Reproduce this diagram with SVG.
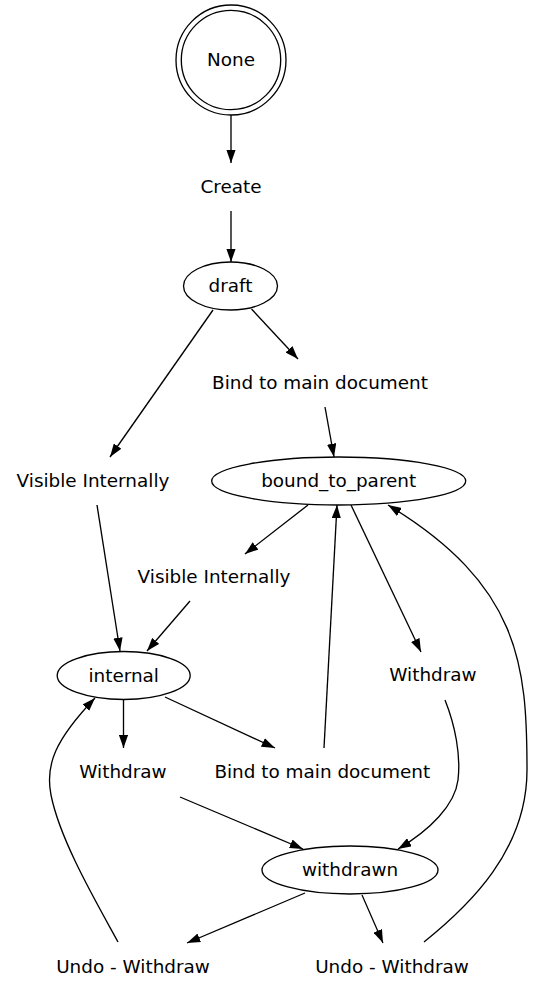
<svg xmlns="http://www.w3.org/2000/svg" width="533" height="997" viewBox="0 0 533 997">
<style>
.n{fill:#fff;stroke:#000;stroke-width:1.33}
.t{font-family:"DejaVu Sans","Liberation Sans",sans-serif;font-size:18.4px;text-anchor:middle;fill:#000}
.e{fill:none;stroke:#000;stroke-width:1.33;marker-end:url(#arr)}
</style>
<defs>
<marker id="arr" markerUnits="userSpaceOnUse" viewBox="0 0 13.3 9.33" markerWidth="13.3" markerHeight="9.33" refX="13.3" refY="4.67" orient="auto">
<path d="M0,0 L13.3,4.67 L0,9.33 z" fill="#000"/>
</marker>
</defs>
<rect width="533" height="997" fill="#fff"/>
<g id="edges">
<path class="e" d="M231,115 L231,163"/>
<path class="e" d="M231,211 L231,262"/>
<path class="e" d="M251.5,309 L298,359"/>
<path class="e" d="M213,310 L110,457"/>
<path class="e" d="M325,407 L334,457"/>
<path class="e" d="M97,505 L120,651"/>
<path class="e" d="M308,505 L245,554"/>
<path class="e" d="M190,601 L147,651"/>
<path class="e" d="M351,505 L421,652"/>
<path class="e" d="M123.5,700 L123.5,748"/>
<path class="e" d="M165,697 L275,748"/>
<path class="e" d="M324,748 L337,505"/>
<path class="e" d="M445,700 C455,725 461,755 458,780 C455,805 430,830 398,849"/>
<path class="e" d="M180,797 L303,849"/>
<path class="e" d="M305,893 L187,943"/>
<path class="e" d="M362,895 L383,943"/>
<path class="e" d="M118,942 C95,900 60,840 51,795 C45,765 55,740 95,698"/>
<path class="e" d="M424,942 C470,905 527,850 527,770 C527,665 520,585 388,505"/>
</g>
<g id="None">
<circle class="n" cx="231" cy="60" r="55"/>
<circle class="n" cx="231" cy="60" r="49.7"/>
<text class="t" x="231" y="66">None</text>
</g>
<g id="Create"><text class="t" x="231" y="193">Create</text></g>
<g id="draft">
<ellipse class="n" cx="230.5" cy="286" rx="47" ry="24"/>
<text class="t" x="230.5" y="292">draft</text>
</g>
<g id="bind1"><text class="t" x="320" y="389">Bind to main document</text></g>
<g id="visible1"><text class="t" x="93" y="487">Visible Internally</text></g>
<g id="bound_to_parent">
<ellipse class="n" cx="338.7" cy="481" rx="127" ry="24"/>
<text class="t" x="338.7" y="487">bound_to_parent</text>
</g>
<g id="visible2"><text class="t" x="214" y="583">Visible Internally</text></g>
<g id="internal">
<ellipse class="n" cx="123.7" cy="675.5" rx="66.5" ry="24"/>
<text class="t" x="123.7" y="681.5">internal</text>
</g>
<g id="withdraw1"><text class="t" x="433" y="681">Withdraw</text></g>
<g id="withdraw2"><text class="t" x="123" y="778">Withdraw</text></g>
<g id="bind2"><text class="t" x="322.3" y="778">Bind to main document</text></g>
<g id="withdrawn">
<ellipse class="n" cx="350" cy="870" rx="88" ry="24"/>
<text class="t" x="350" y="876">withdrawn</text>
</g>
<g id="undo1"><text class="t" x="133" y="973">Undo - Withdraw</text></g>
<g id="undo2"><text class="t" x="392" y="973">Undo - Withdraw</text></g>
</svg>
